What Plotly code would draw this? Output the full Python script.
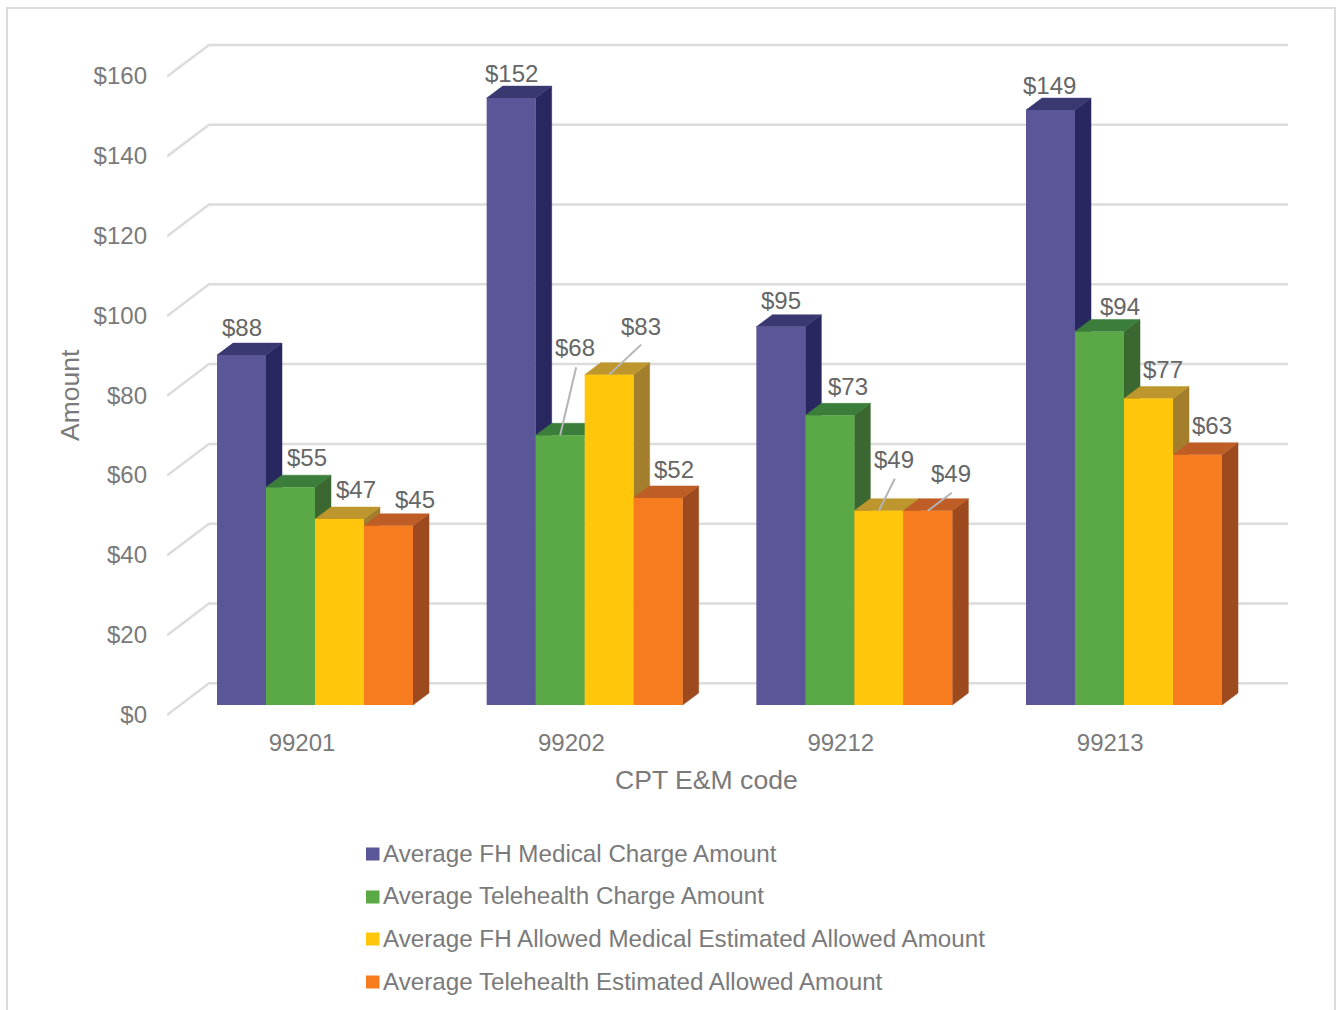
import plotly.graph_objects as go

# ---- data ----
categories = ["99201", "99202", "99212", "99213"]
fh_charge = [87.7, 152.1, 94.8, 149.1]
tele_charge = [54.6, 67.6, 72.6, 93.6]
fh_allowed = [46.6, 82.8, 48.7, 76.8]
tele_allowed = [44.9, 51.9, 48.7, 62.7]
series_names = [
    "Average FH Medical Charge Amount",
    "Average Telehealth Charge Amount",
    "Average FH Allowed Medical Estimated Allowed Amount",
    "Average Telehealth Estimated Allowed Amount",
]
series_values = [fh_charge, tele_charge, fh_allowed, tele_allowed]
y_ticks = [0, 20, 40, 60, 80, 100, 120, 140, 160]

# ---- styles ----
FRONT = ["#5A5698", "#5BA946", "#FFC60B", "#F77C20"]
SIDE = ["#28275F", "#3A6830", "#A37F2D", "#9D4A1F"]
TOP = ["#3A3871", "#3B7E3B", "#BD972D", "#BE5D25"]
FONT = "Liberation Sans, Arial, sans-serif"
GREY = "#7A7A7A"
LABEL = "#666666"
GRID = "#DCDCDC"

# ---- layout geometry (x axis is in page pixels) ----
W, H = 1343, 1010
L, R, T, B = 167, 1288, 20, 720
SCALE = 3.99          # pixels per dollar
LABEL_ZERO = 714.3    # page y of $0 tick label
BAR_ZERO = 705.0      # page y of $0 at the bar fronts
BAR_W = 49.0
BAR_START = 217.0
PITCH = 269.67
TICK_START = 302.0
TICK_PITCH = 269.4
DEPTH_X = 16.0
DEPTH_Y = 12.0 / SCALE
WALL_FRONT = -0.7 / SCALE
WALL_BACK = 31.0 / SCALE
WALL_X = 209.0

# label offsets from the bar's rounded top centre, in pixels (dx, dy up)
label_off = [
    [(0, 26), (0, 25), (0, 25), (-1, 25)],
    [(16, 28), (15, 86), (18, 27), (20, 23)],
    [(16, 28), (32, 47), (15, 50), (14, 28)],
    [(26, 26), (16, 28), (23, 36), (14, 28)],
]
# (series, category): leader end relative to bar top centre, pixels
leaders = {
    (1, 1): (16, 68),
    (2, 1): (32, 30),
    (2, 2): (16, 32),
    (3, 2): (24, 18),
}


def px(x):
    return (x - L) / (R - L)


def py(y):
    return (B - y) / (B - T)


fig = go.Figure()

# back wall and floor gridlines
wx, wy = [], []
for v in y_ticks:
    wx += [L, WALL_X, R, None]
    wy += [v + WALL_FRONT, v + WALL_BACK, v + WALL_BACK, None]
fig.add_trace(go.Scatter(x=wx, y=wy, mode="lines", yaxis="y", showlegend=False,
                         hoverinfo="skip", line=dict(color=GRID, width=2.5)))

# side and top faces
for j, vals in enumerate(series_values):
    sx, sy, tx, ty = [], [], [], []
    for i, v in enumerate(vals):
        left = BAR_START + PITCH * i + BAR_W * j
        right = left + BAR_W
        sx += [right, right + DEPTH_X, right + DEPTH_X, right, right, None]
        sy += [0, DEPTH_Y, v + DEPTH_Y, v, 0, None]
        tx += [left, left + DEPTH_X, right + DEPTH_X, right, left, None]
        ty += [v, v + DEPTH_Y, v + DEPTH_Y, v, v, None]
    fig.add_trace(go.Scatter(x=sx, y=sy, yaxis="y2", mode="lines", fill="toself",
                             fillcolor=SIDE[j], line=dict(color=SIDE[j], width=0.5),
                             showlegend=False, hoverinfo="skip"))
    fig.add_trace(go.Scatter(x=tx, y=ty, yaxis="y2", mode="lines", fill="toself",
                             fillcolor=TOP[j], line=dict(color=TOP[j], width=0.5),
                             showlegend=False, hoverinfo="skip"))

# front faces
for j, vals in enumerate(series_values):
    xs = [BAR_START + PITCH * i + BAR_W * (j + 0.5) for i in range(len(vals))]
    fig.add_trace(go.Bar(x=xs, y=vals, width=BAR_W, name=series_names[j], yaxis="y3",
                         marker=dict(color=FRONT[j], line=dict(width=0)),
                         showlegend=False))

# leader lines
lx, ly = [], []
for (j, i), (dx, dy) in leaders.items():
    c = BAR_START + PITCH * i + BAR_W * (j + 0.5)
    v = series_values[j][i]
    lx += [c, c + dx, None]
    ly += [v, v + dy / SCALE, None]
fig.add_trace(go.Scatter(x=lx, y=ly, yaxis="y3", mode="lines", showlegend=False,
                         hoverinfo="skip", line=dict(color="#B4B4B8", width=2)))

annotations = []
# data labels
for j, vals in enumerate(series_values):
    for i, v in enumerate(vals):
        c = BAR_START + PITCH * i + BAR_W * (j + 0.5)
        dx, dy = label_off[j][i]
        annotations.append(dict(
            x=c, y=round(v), xref="x", yref="y3", text=f"${v:.0f}", showarrow=False,
            xshift=dx, yshift=dy, xanchor="center", yanchor="middle",
            font=dict(family=FONT, size=24, color=LABEL)))

# axis titles
annotations.append(dict(x=px(706), y=py(780), xref="paper", yref="paper", text="CPT E&amp;M code",
                        showarrow=False, xanchor="center", yanchor="middle",
                        font=dict(family=FONT, size=26.6, color=GREY)))
annotations.append(dict(x=px(70), y=py(395), xref="paper", yref="paper", text="Amount",
                        showarrow=False, textangle=-90, xanchor="center", yanchor="middle",
                        font=dict(family=FONT, size=26.5, color=GREY)))

# legend
shapes = [dict(type="rect", xref="paper", yref="paper", x0=px(7), x1=px(1335), y0=py(1030), y1=py(8),
               line=dict(color=GRID, width=2), fillcolor="rgba(0,0,0,0)", layer="below")]
legend_y = [853, 896, 938, 981]
for name, color, ly_ in zip(series_names, FRONT, legend_y):
    shapes.append(dict(type="rect", xref="paper", yref="paper", x0=px(366), x1=px(379.5),
                       y0=py(ly_ + 7.5), y1=py(ly_ - 5.5), fillcolor=color, line=dict(width=0)))
    annotations.append(dict(x=px(381), y=py(ly_), xref="paper", yref="paper", text=name,
                            showarrow=False, xanchor="left", yanchor="middle",
                            font=dict(family=FONT, size=24.2, color=GREY)))

fig.update_layout(
    width=W, height=H, margin=dict(l=L, r=W - R, t=T, b=H - B, pad=0, autoexpand=False),
    paper_bgcolor="white", plot_bgcolor="rgba(0,0,0,0)", barmode="overlay", showlegend=False,
    font=dict(family=FONT, size=24, color=GREY),
    annotations=annotations, shapes=shapes,
    xaxis=dict(range=[L, R], showgrid=False, zeroline=False, showline=False,
               tickmode="array",
               tickvals=[TICK_START + TICK_PITCH * i for i in range(len(categories))],
               ticktext=categories, ticks="", ticklabelstandoff=6,
               tickfont=dict(family=FONT, size=24, color=GREY)),
    yaxis=dict(range=[(LABEL_ZERO - B) / SCALE, (LABEL_ZERO - T) / SCALE], showgrid=False,
               zeroline=False, showline=False, ticks="", tickmode="array", tickvals=y_ticks,
               ticktext=[f"${v}" for v in y_ticks], ticklabelstandoff=19,
               tickfont=dict(family=FONT, size=24, color=GREY)),
    yaxis2=dict(range=[(BAR_ZERO - B) / SCALE, (BAR_ZERO - T) / SCALE], overlaying="y",
                visible=False, anchor="x"),
    yaxis3=dict(range=[(BAR_ZERO - B) / SCALE, (BAR_ZERO - T) / SCALE], overlaying="y",
                visible=False, anchor="x"),
)

fig.write_html("out.html", post_script="document.body.style.margin='0';",
               config=dict(displayModeBar=False))
